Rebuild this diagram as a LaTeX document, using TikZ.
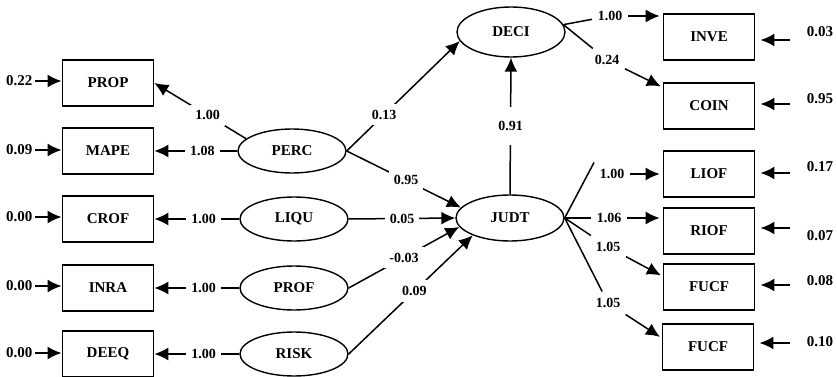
\documentclass[tikz,border=0pt]{standalone}
\usepackage{fontspec}
\setmainfont{Liberation Serif}
\usetikzlibrary{shapes,arrows.meta}

\tikzset{
  obs/.style={draw,line width=1.7pt,minimum width=91pt,minimum height=46pt,font=\bfseries\fontsize{15}{17}\selectfont},
  lat/.style={draw,ellipse,line width=1.4pt,minimum width=108pt,minimum height=44pt,font=\bfseries\fontsize{15}{17}\selectfont},
  coef/.style={fill=white,inner xsep=5pt,inner ysep=6pt,font=\bfseries\fontsize{14}{16}\selectfont},
  err/.style={inner sep=2pt,font=\bfseries\fontsize{15}{17}\selectfont},
  errline/.style={->,line width=2.2pt}
}

\begin{document}
\begin{tikzpicture}[x=1pt,y=-1pt,line width=1.5pt,>={Latex[length=14pt,width=13pt]}]
\useasboundingbox (0,0) rectangle (837,377);
% indicators (left)
\node[obs] (prop) at (108,83) {PROP};
\node[obs] (mape) at (108,151) {MAPE};
\node[obs] (crof) at (108,219) {CROF};
\node[obs] (inra) at (108,288) {INRA};
\node[obs] (deeq) at (108,354) {DEEQ};
% latent variables
\node[lat] (perc) at (292,151) {PERC};
\node[lat] (liqu) at (294,219) {LIQU};
\node[lat] (prof) at (294,288) {PROF};
\node[lat] (risk) at (294,354) {RISK};
\node[lat,minimum height=46pt] (judt) at (510,218) {JUDT};
\node[lat,minimum height=50pt] (deci) at (511,32) {DECI};
% indicators (right)
\node[obs] (inve) at (709,37) {INVE};
\node[obs] (coin) at (709,106) {COIN};
\node[obs] (liof) at (709,174) {LIOF};
\node[obs] (riof) at (709,231) {RIOF};
\node[obs] (fucfa) at (709,287) {FUCF};
\node[obs] (fucfb) at (708,347) {FUCF};

% errors (left)
\node[err,anchor=east] (ea) at (35,81) {0.22};
\node[err,anchor=east] (eb) at (35,150) {0.09};
\node[err,anchor=east] (ec) at (35,217) {0.00};
\node[err,anchor=east] (ed) at (35,286) {0.00};
\node[err,anchor=east] (ee) at (35,353) {0.00};
\draw[errline] (ea) -- (ea -| prop.west);
\draw[errline] (eb) -- (eb -| mape.west);
\draw[errline] (ec) -- (ec -| crof.west);
\draw[errline] (ed) -- (ed -| inra.west);
\draw[errline] (ee) -- (ee -| deeq.west);

% loadings (left)
\draw[->] (perc.165) -- node[coef,pos=0.42]{1.00} (prop.east);
\draw[->] (perc.west) -- node[coef,pos=0.42]{1.08} (mape.east);
\draw[->] (liqu.west) -- node[coef,pos=0.42]{1.00} (crof.east);
\draw[->] (prof.west) -- node[coef,pos=0.42]{1.00} (inra.east);
\draw[->] (risk.west) -- node[coef,pos=0.42]{1.00} (deeq.east);

% paths
\draw[->] (perc.east) -- node[coef,pos=0.33]{0.13} (deci.190);
\draw[->] (perc.east) -- node[coef,pos=0.52]{0.95} (judt.168);
\draw[->] (liqu.east) -- node[coef]{0.05} (judt.west);
\draw[->] (prof.east) -- node[coef]{-0.03} (judt.190);
\draw[->] (risk.east) -- node[coef,pos=0.53]{0.09} (judt.205);
\draw[->] (judt.north) -- node[coef,inner ysep=14pt]{0.91} (deci.south);

% loadings (right)
\node[coef] (linve) at (610,16) {1.00};
\node[coef] (lcoin) at (607,60) {0.24};
\node[coef] (lliof) at (612,174) {1.00};
\node[coef] (lriof) at (609,218) {1.06};
\node[coef] (lfucfa) at (608,247) {1.05};
\node[coef] (lfucfb) at (608,303) {1.05};
\draw (deci.8) -- (linve);
\draw[->,shorten >=3pt] (linve) -- (linve -| inve.west);
\draw (deci.8) -- (lcoin);
\draw[->,shorten >=2pt] (lcoin) -- (coin.158);
\draw (judt.east) -- (lliof.north west);
\draw[->,shorten >=3pt] (lliof) -- (liof.west);
\draw (judt.east) -- (lriof);
\draw[->,shorten >=3pt] (lriof) -- (lriof -| riof.west);
\draw (judt.east) -- (lfucfa);
\draw[->,shorten >=2pt] (lfucfa) -- (fucfa.167);
\draw (judt.east) -- (lfucfb);
\draw[->,shorten >=2pt] (lfucfb) -- (fucfb.169);

% errors (right)
\coordinate (ra) at (790,40);
\coordinate (rb) at (790,104);
\coordinate (rc) at (790,173);
\coordinate (rd) at (790,228);
\coordinate (re) at (790,285);
\coordinate (rf) at (790,343);
\draw[errline,shorten >=5pt] (ra) -- (ra -| inve.east);
\draw[errline,shorten >=5pt] (rb) -- (rb -| coin.east);
\draw[errline,shorten >=5pt] (rc) -- (rc -| liof.east);
\draw[errline,shorten >=5pt] (rd) -- (rd -| riof.east);
\draw[errline,shorten >=5pt] (re) -- (re -| fucfa.east);
\draw[errline,shorten >=5pt] (rf) -- (rf -| fucfb.east);
\node[err,anchor=west] (na) at (804,32) {0.03};
\node[err,anchor=west] (nb) at (804,99) {0.95};
\node[err,anchor=west] (nc) at (804,167) {0.17};
\node[err,anchor=west] (nd) at (804,236) {0.07};
\node[err,anchor=west] (ne) at (804,281) {0.08};
\node[err,anchor=west] (nf) at (804,342) {0.10};
\end{tikzpicture}
\end{document}
